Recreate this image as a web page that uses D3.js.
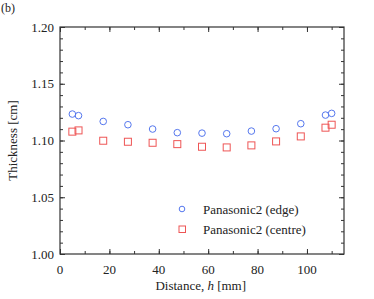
<!DOCTYPE html>
<html>
<head>
<meta charset="utf-8">
<script src="https://cdn.jsdelivr.net/npm/d3@7"></script>
<style>
  body { margin: 0; background: #fff; }
</style>
</head>
<body>
<div id="chart"></div>
<script>
// distance h [mm]
const distance = [5, 7.5, 17.5, 27.5, 37.5, 47.5, 57.5, 67.5, 77.5, 87.5, 97.5, 107.5, 110];
// thickness [cm]
const edge   = [1.1233, 1.1219, 1.1168, 1.1139, 1.1101, 1.1069, 1.1065, 1.1060, 1.1083, 1.1104, 1.1148, 1.1224, 1.1239];
const centre = [1.1078, 1.1089, 1.0998, 1.0989, 1.0980, 1.0968, 1.0945, 1.0939, 1.0957, 1.0992, 1.1036, 1.1113, 1.1139];
const xTicks = [0, 20, 40, 60, 80, 100];
const yTicks = [1.00, 1.05, 1.10, 1.15, 1.20];

const W = 374, H = 299;
const margin = { top: 27, right: 30, bottom: 45, left: 60 };
const width = W - margin.left - margin.right,
      height = H - margin.top - margin.bottom;

const svg = d3.select('#chart').append('svg')
  .attr('width', W).attr('height', H)
  .attr('font-family', "'Liberation Serif', 'DejaVu Serif', serif");

const g = svg.append('g')
  .attr('transform', `translate(${margin.left}, ${margin.top})`);

const x = d3.scaleLinear().domain([0, 115]).range([0, width]);
const y = d3.scaleLinear().domain([1.0, 1.2]).range([height, 0]);

const axisColor = '#333';
const minorX = d3.range(0, 115, 10);
const minorY = d3.range(1.0, 1.2001, 0.01);

// ticks on all four sides, pointing inward
const drawAxis = (axis, transform) => {
  g.append('g').attr('transform', transform).call(axis)
    .call(s => s.select('.domain').remove())
    .call(s => s.selectAll('line').attr('stroke', axisColor));
};
drawAxis(d3.axisBottom(x).tickValues(minorX).tickSize(-3).tickFormat(''), `translate(0,${height})`);
drawAxis(d3.axisTop(x).tickValues(minorX).tickSize(-3).tickFormat(''), 'translate(0,0)');
drawAxis(d3.axisLeft(y).tickValues(minorY).tickSize(-3).tickFormat(''), 'translate(0,0)');
drawAxis(d3.axisRight(y).tickValues(minorY).tickSize(-3).tickFormat(''), `translate(${width},0)`);
drawAxis(d3.axisBottom(x).tickValues(xTicks).tickSize(-5).tickFormat(''), `translate(0,${height})`);
drawAxis(d3.axisTop(x).tickValues(xTicks).tickSize(-5).tickFormat(''), 'translate(0,0)');
drawAxis(d3.axisLeft(y).tickValues(yTicks).tickSize(-5).tickFormat(''), 'translate(0,0)');
drawAxis(d3.axisRight(y).tickValues(yTicks).tickSize(-5).tickFormat(''), `translate(${width},0)`);

g.append('rect')
  .attr('width', width).attr('height', height)
  .attr('fill', 'none').attr('stroke', axisColor).attr('stroke-width', 1.2);

// tick labels
g.selectAll('.xlab').data(xTicks).enter().append('text')
  .attr('x', d => x(d)).attr('y', height + 20)
  .attr('text-anchor', 'middle').attr('font-size', 13).attr('fill', '#222')
  .text(d => d);
g.selectAll('.ylab').data(yTicks).enter().append('text')
  .attr('x', -6).attr('y', d => y(d) + 4.5)
  .attr('text-anchor', 'end').attr('font-size', 13).attr('fill', '#222')
  .text(d => d3.format('.2f')(d));

// axis titles
const xt = svg.append('text')
  .attr('x', margin.left + x(57)).attr('y', 290)
  .attr('text-anchor', 'middle').attr('font-size', 13).attr('fill', '#222');
xt.append('tspan').text('Distance, ');
xt.append('tspan').attr('font-style', 'italic').text('h');
xt.append('tspan').text(' [mm]');

svg.append('text')
  .attr('transform', `translate(17, ${margin.top + height / 2}) rotate(-90)`)
  .attr('text-anchor', 'middle').attr('font-size', 13).attr('fill', '#222')
  .text('Thickness [cm]');

svg.append('text').attr('x', 1).attr('y', 12).attr('font-size', 12).attr('fill', '#222').text('(b)');

const blue = '#5577ee', red = '#ee5555';

// data points
g.selectAll('.edge').data(distance).enter().append('circle')
  .attr('cx', d => x(d)).attr('cy', (d, i) => y(edge[i]))
  .attr('r', 3.3).attr('fill', 'none').attr('stroke', blue).attr('stroke-width', 1);

g.selectAll('.centre').data(distance).enter().append('rect')
  .attr('x', d => x(d) - 3.5).attr('y', (d, i) => y(centre[i]) - 3.5)
  .attr('width', 7).attr('height', 7)
  .attr('fill', 'none').attr('stroke', red).attr('stroke-width', 1);

// legend
const leg = svg.append('g');
leg.append('circle').attr('cx', 182).attr('cy', 209).attr('r', 2.8)
  .attr('fill', 'none').attr('stroke', blue);
leg.append('rect').attr('x', 179).attr('y', 226).attr('width', 6.5).attr('height', 6.5)
  .attr('fill', 'none').attr('stroke', red);
leg.append('text').attr('x', 203).attr('y', 213.5).attr('font-size', 13).attr('fill', '#222').text('Panasonic2 (edge)');
leg.append('text').attr('x', 203).attr('y', 234).attr('font-size', 13).attr('fill', '#222').text('Panasonic2 (centre)');
</script>
</body>
</html>
